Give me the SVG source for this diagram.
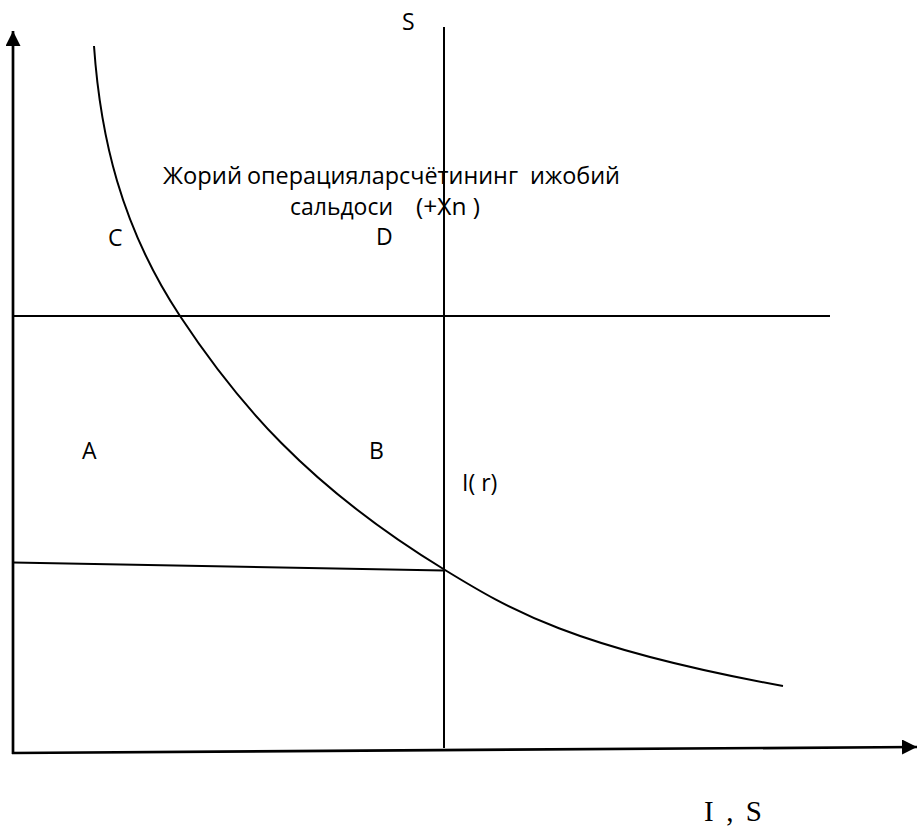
<svg xmlns="http://www.w3.org/2000/svg" width="919" height="828" viewBox="0 0 919 828">
<style>
.ln{stroke:#000;stroke-width:2;fill:none}
.ax{stroke:#000;stroke-width:2.7;fill:none}
.t{font-family:"Open Sans","Noto Sans","DejaVu Sans",sans-serif;font-size:23px;fill:#000;white-space:pre}
.s{font-family:"Liberation Serif","Times New Roman",serif;font-size:29px;fill:#000;white-space:pre}
</style>
<defs>
<marker id="arr" markerWidth="16" markerHeight="16" refX="15" refY="7.5" orient="auto" markerUnits="userSpaceOnUse">
<path d="M0,0 L15,7.5 L0,15 Z" fill="#000"/>
</marker>
</defs>
<g id="connectors">
<line class="ax" x1="13" y1="754" x2="13" y2="31" marker-end="url(#arr)"/>
<line class="ax" x1="12" y1="753" x2="917" y2="747" marker-end="url(#arr)"/>
<line class="ln" x1="444" y1="27" x2="444" y2="748" stroke-width="2.3"/>
<line class="ln" x1="13" y1="316" x2="830" y2="316"/>
<line class="ln" x1="13" y1="562.5" x2="444" y2="570.5"/>
<path id="curve" class="ln" d="M94,46 C100.3,136 120.6,226 180,316 C235.9,400.7 306.1,485.3 445,570 C508.4,608.7 571,647.3 783,686"/>
</g>
<g id="label-S"><text class="t" x="402" y="30">S</text></g>
<g id="label-title">
<text class="t" y="184"><tspan x="163" textLength="79" lengthAdjust="spacingAndGlyphs">Жорий</tspan> <tspan x="247" textLength="271" lengthAdjust="spacingAndGlyphs">операцияларсчётининг</tspan>  <tspan x="530" textLength="90" lengthAdjust="spacingAndGlyphs">ижобий</tspan></text>
<text class="t" y="215"><tspan x="290" textLength="103" lengthAdjust="spacingAndGlyphs">сальдоси</tspan>    <tspan x="416" textLength="64" lengthAdjust="spacingAndGlyphs">(+Xn )</tspan></text>
</g>
<g id="label-C"><text class="t" x="108" y="246">C</text></g>
<g id="label-D"><text class="t" x="376" y="245">D</text></g>
<g id="label-A"><text class="t" x="82" y="459">A</text></g>
<g id="label-B"><text class="t" x="369" y="459">B</text></g>
<g id="label-Ir"><text class="t" x="462" y="491">I( r)</text></g>
<g id="label-IS"><text class="s" x="704" y="821" textLength="58" lengthAdjust="spacing">I , S</text></g>
</svg>
